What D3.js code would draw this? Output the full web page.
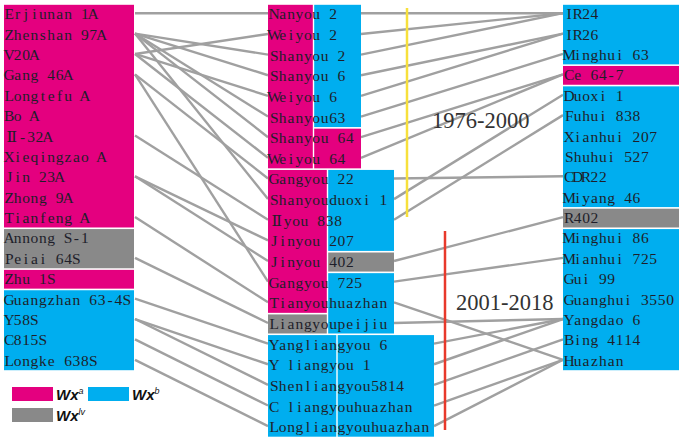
<!DOCTYPE html>
<html><head><meta charset="utf-8">
<script src="https://cdn.jsdelivr.net/npm/d3@7"></script>
<style>body{margin:0;background:#fff}svg{display:block}</style>
</head><body>
<svg id="chart" width="683" height="442"></svg>
<script>
// ---------- data ----------
const females = ["Erjiunan 1A","Zhenshan 97A","V20A","Gang 46A","Longtefu A","Bo A","Ⅱ-32A","Xieqingzao A","Jin 23A","Zhong 9A","Tianfeng A","Annong S-1","Peiai 64S","Zhu 1S","Guangzhan 63-4S","Y58S","C815S","Longke 638S"];
const femaleTypes = ["a","a","a","a","a","a","a","a","a","a","a","lv","lv","a","b","b","b","b"];

const hybrids = ["Nanyou 2","Weiyou 2","Shanyou 2","Shanyou 6","Weiyou 6","Shanyou63","Shanyou 64","Weiyou 64","Gangyou 22","Shanyouduoxi 1","Ⅱyou 838","Jinyou 207","Jinyou 402","Gangyou 725","Tianyouhuazhan","Liangyoupeijiu","Yangliangyou 6","Y liangyou 1","Shenliangyou5814","C liangyouhuazhan","Longliangyouhuazhan"];
const hybridFemaleTypes = ["a","a","a","a","a","a","a","a","a","a","a","a","a","a","a","lv","b","b","b","b","b"];
const hybridMaleTypes   = ["b","b","b","b","b","b","a","a","b","b","b","b","lv","b","b","b","b","b","b","b","b"];

const males = ["IR24","IR26","Minghui 63","Ce 64-7","Duoxi 1","Fuhui 838","Xianhui 207","Shuhui 527","CDR22","Miyang 46","R402","Minghui 86","Mianhui 725","Gui 99","Guanghui 3550","Yangdao 6","Bing 4114","Huazhan"];
const maleTypes = ["b","b","b","a","b","b","b","b","b","b","lv","b","b","b","b","b","b","b"];

// female parent -> hybrid
const femaleLinks = [
  ["Erjiunan 1A","Nanyou 2"],
  ["Zhenshan 97A","Shanyou 2"],["Zhenshan 97A","Shanyou 6"],["Zhenshan 97A","Shanyou63"],["Zhenshan 97A","Shanyou 64"],["Zhenshan 97A","Shanyouduoxi 1"],
  ["V20A","Weiyou 2"],["V20A","Weiyou 6"],["V20A","Weiyou 64"],
  ["Gang 46A","Gangyou 22"],["Gang 46A","Gangyou 725"],
  ["Ⅱ-32A","Ⅱyou 838"],
  ["Jin 23A","Jinyou 207"],["Jin 23A","Jinyou 402"],
  ["Tianfeng A","Tianyouhuazhan"],
  ["Peiai 64S","Liangyoupeijiu"],
  ["Guangzhan 63-4S","Yangliangyou 6"],
  ["Y58S","Y liangyou 1"],["Y58S","Shenliangyou5814"],
  ["C815S","C liangyouhuazhan"],
  ["Longke 638S","Longliangyouhuazhan"]
];
// hybrid -> male parent
const maleLinks = [
  ["Nanyou 2","IR24"],["Weiyou 2","IR24"],["Shanyou 2","IR24"],
  ["Shanyou 6","IR26"],["Weiyou 6","IR26"],
  ["Shanyou63","Minghui 63"],
  ["Shanyou 64","Ce 64-7"],["Weiyou 64","Ce 64-7"],
  ["Gangyou 22","CDR22"],["Shanyouduoxi 1","Duoxi 1"],["Ⅱyou 838","Fuhui 838"],
  ["Jinyou 402","R402"],["Gangyou 725","Mianhui 725"],
  ["Tianyouhuazhan","Huazhan"],["Liangyoupeijiu","Yangdao 6"],
  ["Yangliangyou 6","Yangdao 6"],["Y liangyou 1","Yangdao 6"],
  ["Shenliangyou5814","Bing 4114"],
  ["C liangyouhuazhan","Huazhan"],["Longliangyouhuazhan","Huazhan"]
];

const periods = ["1976-2000","2001-2018"];
const legendItems = [["a","a"],["b","b"],["lv","lv"]];

// ---------- layout ----------
const svg = d3.select("#chart");
const color = d3.scaleOrdinal().domain(["a","b","lv"]).range(["#e4007f","#00aeef","#898989"]);

const yL = d3.scaleBand().domain(females).range([4, 371]);
const yM = d3.scaleBand().domain(hybrids).range([4, 437.5]);
const yR = d3.scaleBand().domain(males).range([4, 371]);

const leftX0 = 4, leftX1 = 134;
const rightX0 = 563, rightX1 = 679;
const midX0 = 268;
// sections of middle column: [startIdx, endIdx, splitX, rightEdge]
const sections = [[0,8,313.5,361],[8,16,327.5,394],[16,21,337,434]];
function sectionOf(i){ return sections.find(s => i>=s[0] && i<s[1]); }

const lineColor = "#a0a0a0";

// ---------- links ----------
const gLinks = svg.append("g");
gLinks.selectAll("line.f").data(femaleLinks).join("line")
  .attr("x1", leftX1 + 1)
  .attr("y1", d => yL(d[0]) + yL.bandwidth()/2 - 1)
  .attr("x2", midX0)
  .attr("y2", d => yM(d[1]) + yM.bandwidth()/2 - 1)
  .attr("stroke", lineColor).attr("stroke-width", 2.4);

gLinks.selectAll("line.m").data(maleLinks).join("line")
  .attr("x1", d => sectionOf(hybrids.indexOf(d[0]))[3])
  .attr("y1", d => yM(d[0]) + yM.bandwidth()/2 - 1)
  .attr("x2", rightX0)
  .attr("y2", d => yR(d[1]) + yR.bandwidth()/2 - 1)
  .attr("stroke", lineColor).attr("stroke-width", 2.4);

// ---------- blocks ----------
function runs(types, start, end){
  const out = [];
  let s = start;
  for (let i = start+1; i <= end; i++){
    if (i === end || types[i] !== types[s]){ out.push([s, i, types[s]]); s = i; }
  }
  return out;
}
const gBlocks = svg.append("g");
function drawRuns(rs, scale, names, x0, x1){
  gBlocks.selectAll(null).data(rs).join("rect")
    .attr("x", x0).attr("width", x1 - x0)
    .attr("y", d => scale(names[d[0]]) + 0.8)
    .attr("height", d => scale(names[d[1]-1]) + scale.bandwidth() - scale(names[d[0]]) - 1.6)
    .attr("fill", d => color(d[2]));
}
drawRuns(runs(femaleTypes, 0, females.length), yL, females, leftX0, leftX1);
drawRuns(runs(maleTypes, 0, males.length), yR, males, rightX0, rightX1);
sections.forEach(s => {
  drawRuns(runs(hybridFemaleTypes, s[0], s[1]), yM, hybrids, midX0, s[2] - 0.7);
  drawRuns(runs(hybridMaleTypes, s[0], s[1]), yM, hybrids, s[2] + 0.7, s[3]);
});

// ---------- labels (serif glyphs on a monospace grid) ----------
const labelFont = "'Liberation Serif', 'DejaVu Serif', serif";
const charW = 8.4;
function charXs(s, x0){
  const xs = []; let pos = 0;
  for (const c of s){
    const w = (c === "Ⅱ") ? 1.6 : 1;
    xs.push((x0 + (pos + w/2) * charW).toFixed(2));
    pos += w;
  }
  return xs.join(" ");
}
function drawLabels(names, scale, x){
  svg.append("g").selectAll("text").data(names).join("text")
    .attr("x", d => charXs(d, x))
    .attr("y", d => scale(d) + scale.bandwidth()/2 + 5)
    .attr("text-anchor", "middle")
    .attr("font-family", labelFont).attr("font-size", 15.5)
    .attr("fill", "#1e1e2a")
    .text(d => d);
}
drawLabels(females, yL, 5);
drawLabels(hybrids, yM, 270);
drawLabels(males, yR, 565);

// ---------- period markers ----------
svg.append("line").attr("x1", 407).attr("x2", 407).attr("y1", 8).attr("y2", 217)
  .attr("stroke", "#f7e03c").attr("stroke-width", 2.5);
svg.append("line").attr("x1", 445).attr("x2", 445).attr("y1", 231).attr("y2", 430)
  .attr("stroke", "#e8392b").attr("stroke-width", 2.5);
svg.append("text").attr("x", 432).attr("y", 128).text(periods[0])
  .attr("font-family", "'Liberation Serif', 'Times New Roman', serif").attr("font-size", 22.5).attr("fill", "#333");
svg.append("text").attr("x", 456).attr("y", 310).text(periods[1])
  .attr("font-family", "'Liberation Serif', 'Times New Roman', serif").attr("font-size", 22.5).attr("fill", "#333");

// ---------- legend ----------
const legPos = [[12,387],[88,387],[12,408]];
const gLeg = svg.append("g");
legendItems.forEach((it, i) => {
  const [x, y] = legPos[i];
  gLeg.append("rect").attr("x", x).attr("y", y).attr("width", 41).attr("height", 14).attr("fill", color(it[0]));
  const t = gLeg.append("text").attr("x", x + 44).attr("y", y + 13)
    .attr("font-family", "'Liberation Sans', Arial, sans-serif").attr("font-size", 15)
    .attr("font-weight", "bold").attr("font-style", "italic").attr("fill", "#111");
  t.append("tspan").text("Wx");
  t.append("tspan").attr("dy", -6).attr("font-size", 9).attr("font-weight", "normal").text(it[1]);
});
</script>
</body></html>
